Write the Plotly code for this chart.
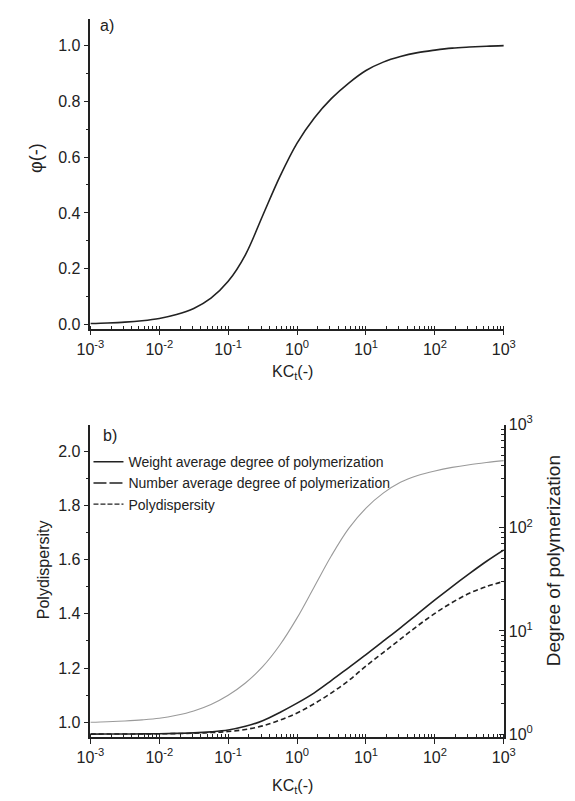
import plotly.graph_objects as go

# ---------------- data ----------------
# common KC_t grid (quarter decades from 1e-3 to 1e3)
kc = [0.001, 0.001778, 0.003162, 0.005623, 0.01, 0.01778, 0.03162, 0.05623,
      0.1, 0.1778, 0.3162, 0.5623, 1.0, 1.778, 3.162, 5.623,
      10.0, 17.78, 31.62, 56.23, 100.0, 177.8, 316.2, 562.3, 1000.0]

# panel a: phi(-)
phi = [0.004, 0.006, 0.009, 0.014, 0.022, 0.036, 0.058, 0.095,
       0.155, 0.25, 0.39, 0.53, 0.65, 0.74, 0.81, 0.865,
       0.91, 0.94, 0.96, 0.974, 0.983, 0.99, 0.994, 0.997, 0.999]

# panel b: polydispersity (left axis)
polydisp = [1.0, 1.002, 1.005, 1.009, 1.015, 1.026, 1.042, 1.066,
            1.10, 1.145, 1.205, 1.285, 1.385, 1.50, 1.615, 1.715,
            1.79, 1.845, 1.885, 1.91, 1.927, 1.94, 1.95, 1.958, 1.965]

# panel b: degrees of polymerization (right log axis)
weight_avg = [1.0, 1.001, 1.002, 1.004, 1.009, 1.017, 1.028, 1.052,
              1.096, 1.189, 1.349, 1.622, 1.995, 2.512, 3.311, 4.416,
              5.888, 7.943, 10.72, 14.62, 19.95, 26.92, 35.89, 47.32, 60.95]
number_avg = [1.0, 1.001, 1.002, 1.005, 1.007, 1.012, 1.019, 1.035,
              1.059, 1.109, 1.202, 1.365, 1.603, 1.972, 2.512, 3.311,
              4.571, 6.166, 8.318, 11.22, 14.79, 18.84, 23.17, 26.92, 30.2]

legend_names = ["Weight average degree of polymerization",
                "Number average degree of polymerization",
                "Polydispersity"]
legend_dashes = ["solid", "13px,3px", "5px,2px"]

x_tickvals = [0.001, 0.01, 0.1, 1, 10, 100, 1000]
x_ticktext = ["10<sup>-3</sup>", "10<sup>-2</sup>", "10<sup>-1</sup>", "10<sup>0</sup>",
              "10<sup>1</sup>", "10<sup>2</sup>", "10<sup>3</sup>"]
dp_tickvals = [1, 10, 100, 1000]
dp_ticktext = ["10<sup>0</sup>", "10<sup>1</sup>", "10<sup>2</sup>", "10<sup>3</sup>"]
phi_ticks = [0.0, 0.2, 0.4, 0.6, 0.8, 1.0]
pd_ticks = [1.0, 1.2, 1.4, 1.6, 1.8, 2.0]

# ---------------- figure ----------------
W, H = 575, 801
FONT = "Liberation Sans, Arial, sans-serif"
INK = "#222222"

fig = go.Figure()

fig.add_trace(go.Scatter(x=kc, y=phi, mode="lines", line=dict(color="#222", width=1.6, shape="spline"),
                         xaxis="x", yaxis="y", showlegend=False))

fig.add_trace(go.Scatter(x=kc, y=polydisp, mode="lines", line=dict(color="#9a9a9a", width=1.1, shape="spline"),
                         xaxis="x2", yaxis="y2", showlegend=False))
fig.add_trace(go.Scatter(x=kc, y=weight_avg, mode="lines", line=dict(color="#222", width=1.6, shape="spline"),
                         xaxis="x2", yaxis="y3", showlegend=False))
fig.add_trace(go.Scatter(x=kc, y=number_avg, mode="lines",
                         line=dict(color="#222", width=1.6, dash="5px,3px", shape="spline"),
                         xaxis="x2", yaxis="y3", showlegend=False))

for name, dash in zip(legend_names, legend_dashes):
    fig.add_trace(go.Scatter(x=[None], y=[None], mode="lines", name=name,
                             line=dict(color="#222", width=1.4, dash=dash),
                             xaxis="x2", yaxis="y2", showlegend=True))

xdom = [80 / W, 513 / W]
ydom_a = [1 - 324 / H, 1 - 8 / H]
ydom_b = [1 - 741 / H, 1 - 422 / H]

axis_common = dict(showgrid=False, zeroline=False, showline=True, linecolor=INK, linewidth=1.6,
                   tickcolor=INK, tickwidth=1.3, tickfont=dict(family=FONT, size=16, color=INK))

logx = dict(type="log", range=[-3, 3], tickmode="array", tickvals=x_tickvals, ticktext=x_ticktext,
            ticks="outside", ticklen=5,
            minor=dict(tickmode="linear", dtick="D1", ticks="inside", ticklen=3, tickcolor=INK,
                       tickwidth=1, showgrid=False),
            **axis_common)

fig.update_layout(
    width=W, height=H, margin=dict(l=0, r=0, t=0, b=0),
    paper_bgcolor="white", plot_bgcolor="white",
    font=dict(family=FONT, color=INK),
    xaxis=dict(domain=xdom, anchor="y", **logx),
    yaxis=dict(domain=ydom_a, anchor="x", range=[-0.014, 1.095], tickmode="array",
               tickvals=phi_ticks, tickformat=".1f", ticks="outside", ticklen=5,
               minor=dict(tickmode="linear", dtick=0.1, tick0=0, ticks="outside", ticklen=3,
                          tickcolor=INK, tickwidth=1),
               **axis_common),
    xaxis2=dict(domain=xdom, anchor="y2", **logx),
    yaxis2=dict(domain=ydom_b, anchor="x2", range=[0.945, 2.098], tickmode="array",
                tickvals=pd_ticks, tickformat=".1f", ticks="outside", ticklen=5,
                minor=dict(tickmode="linear", dtick=0.1, tick0=0, ticks="outside", ticklen=3,
                           tickcolor=INK, tickwidth=1),
                **axis_common),
    yaxis3=dict(domain=ydom_b, anchor="x2", overlaying="y2", side="right", type="log",
                range=[-0.03, 3.0], tickmode="array", tickvals=dp_tickvals, ticktext=dp_ticktext,
                ticks="inside", ticklen=5,
                minor=dict(tickmode="linear", dtick="D1", ticks="inside", ticklen=3, tickcolor=INK,
                           tickwidth=1),
                **axis_common),
    legend=dict(x=78 / W, y=1 - 444 / H, xanchor="left", yanchor="top", bgcolor="rgba(0,0,0,0)",
                font=dict(family=FONT, size=14, color=INK), itemwidth=30, tracegroupgap=0),
)

def note(text, x, y, size, angle=0):
    fig.add_annotation(text=text, x=x / W, y=1 - y / H, xref="paper", yref="paper", showarrow=False,
                       textangle=angle, xanchor="center", yanchor="middle",
                       font=dict(family=FONT, size=size, color=INK))

note("a)", 97, 15, 16)
note("b)", 101, 433, 16)
note("φ(-)", 23, 150, 18, -90)
note("KC<sub>t</sub>(-)", 292, 369, 16)
note("KC<sub>t</sub>(-)", 292, 791, 16)
note("Polydispersity", 31, 570, 16, -90)
note("Degree of polymerization", 565, 561, 19, -90)

fig.write_html("out.html")
